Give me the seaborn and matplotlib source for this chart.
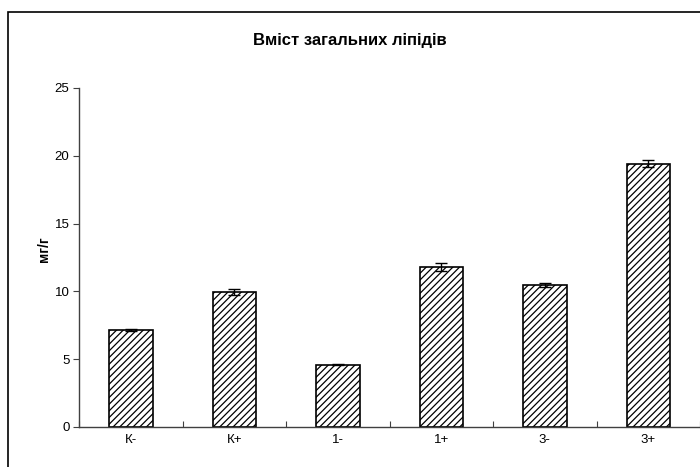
import matplotlib
matplotlib.use("Agg")
import matplotlib.pyplot as plt
import seaborn as sns
import numpy as np
from matplotlib.patches import Rectangle

# дані з діаграми
groups = ["К-", "К+", "1-", "1+", "3-", "3+"]
lipids = [7.15, 9.95, 4.6, 11.8, 10.5, 19.4]
errors = [0.1, 0.25, 0.05, 0.3, 0.15, 0.25]

sns.set_style("white")
plt.rcParams["font.family"] = ["Liberation Sans", "DejaVu Sans"]
plt.rcParams["hatch.linewidth"] = 0.9
plt.rcParams["text.color"] = "black"
plt.rcParams["axes.labelcolor"] = "black"
plt.rcParams["xtick.color"] = "black"
plt.rcParams["ytick.color"] = "black"

fig = plt.figure(figsize=(7, 4.67), dpi=100)
ax = fig.add_axes([0.113, 0.0857, 0.887, 0.726])

sns.barplot(x=groups, y=lipids, color="white", edgecolor="black",
            linewidth=1.2, width=0.42, saturation=1, ax=ax)
for p in ax.patches:
    p.set_hatch("/////")

ax.errorbar(np.arange(len(groups)), lipids, yerr=errors, fmt="none",
            ecolor="black", elinewidth=1, capsize=4, capthick=1)

ax.set_ylim(0, 25)
ax.set_xlim(-0.5, 5.5)
ax.set_yticks([0, 5, 10, 15, 20, 25])
ax.tick_params(axis="y", direction="out", length=4, width=0.8,
               labelsize=9.5, left=True, pad=3, colors="#404040",
               labelcolor="black")
ax.set_xticks(np.arange(-0.5, 6, 1), minor=True)
ax.tick_params(axis="x", which="major", length=0, labelsize=9.5, pad=5,
               bottom=False)
ax.tick_params(axis="x", which="minor", direction="in", length=4,
               width=0.8, bottom=True, colors="#404040")

for s in ["top", "right"]:
    ax.spines[s].set_visible(False)
for s in ["left", "bottom"]:
    ax.spines[s].set_color("#404040")
    ax.spines[s].set_linewidth(1)

ax.set_xlabel("")
ax.set_ylabel("мг/г", fontsize=10, fontweight="bold")
ax.yaxis.set_label_coords(-0.045, 0.525)
fig.suptitle("Вміст загальних ліпідів", x=0.5, y=0.93,
             fontsize=12, fontweight="bold")

# рамка навколо рисунка
fig.patches.append(Rectangle((8 / 700, -0.1), 1.0, 1.1 - 12 / 467,
                             transform=fig.transFigure, fill=False,
                             edgecolor="black", linewidth=1.2))

fig.savefig("out.png", dpi=100)
